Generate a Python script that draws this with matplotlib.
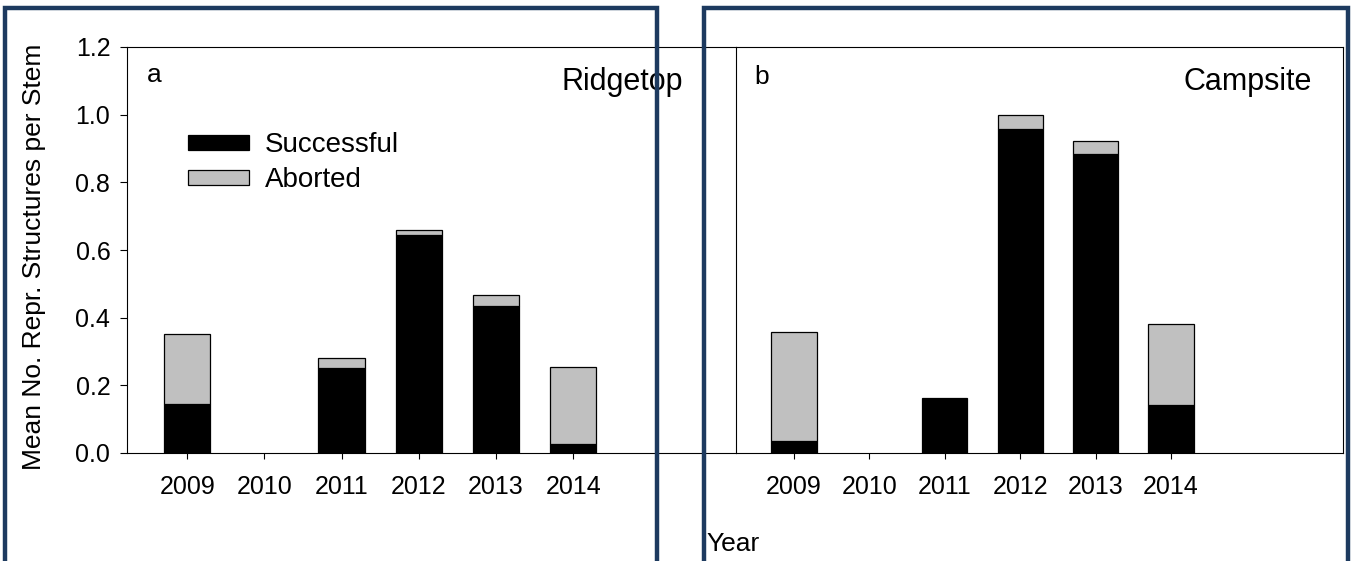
import numpy as np
import matplotlib
matplotlib.use('Agg')
import matplotlib.pyplot as plt
from matplotlib.patches import Patch, Rectangle

plt.rcParams['font.family'] = ['Liberation Sans', 'DejaVu Sans']

years = [2009, 2010, 2011, 2012, 2013, 2014]

# mean reproductive structures per stem, split by fate
ridge_success = [0.144, 0.0, 0.252, 0.644, 0.434, 0.026]
ridge_aborted = [0.208, 0.0, 0.029, 0.015, 0.034, 0.228]
camp_success = [0.036, 0.0, 0.163, 0.959, 0.883, 0.142]
camp_aborted = [0.321, 0.0, 0.0, 0.041, 0.038, 0.239]

W, H = 1355, 561
fig = plt.figure(figsize=(W / 100, H / 100), dpi=100)
fig.patch.set_facecolor('white')

ax1 = fig.add_axes([127 / W, (H - 453) / H, (736 - 127) / W, (453 - 47) / H])
ax2 = fig.add_axes([736 / W, (H - 453) / H, (1343 - 736) / W, (453 - 47) / H])

gray = '#c0c0c0'
for ax, succ, abort, xlim in [
        (ax1, ridge_success, ridge_aborted, (2008.22, 2016.11)),
        (ax2, camp_success, camp_aborted, (2008.23, 2016.28))]:
    s = np.array(succ)
    a = np.array(abort)
    keep = (s + a) > 0
    yr = np.array(years)[keep]
    ax.bar(yr, s[keep], width=0.6, color='black', edgecolor='black',
           linewidth=0.9, label='Successful')
    ab = a[keep] > 0
    ax.bar(yr[ab], a[keep][ab], bottom=s[keep][ab], width=0.6, color=gray,
           edgecolor='black', linewidth=0.9, label='Aborted')
    ax.set_xlim(*xlim)
    ax.set_ylim(0, 1.2)
    ax.set_xticks(years)
    ax.set_xticklabels([str(y) for y in years], fontsize=18)
    ax.tick_params(axis='x', direction='out', length=4.5, width=0.8, pad=11)
    for sp in ax.spines.values():
        sp.set_linewidth(0.8)

ax1.spines['right'].set_visible(False)
ax1.set_yticks(np.arange(0, 1.21, 0.2))
ax1.set_yticklabels(['%.1f' % v for v in np.arange(0, 1.21, 0.2)], fontsize=18)
ax1.tick_params(axis='y', direction='out', length=5, width=0.8, pad=7)
ax1.set_ylabel('Mean No. Repr. Structures per Stem', fontsize=19)
ax1.yaxis.set_label_coords(-0.133, 0.483)

ax2.set_yticks([])

ax1.text(0.033, 0.93, 'a', transform=ax1.transAxes, fontsize=19, va='center')
ax1.text(0.913, 0.915, 'Ridgetop', transform=ax1.transAxes, fontsize=22,
         ha='right', va='center')
ax2.text(0.031, 0.925, 'b', transform=ax2.transAxes, fontsize=19, va='center')
ax2.text(0.949, 0.915, 'Campsite', transform=ax2.transAxes, fontsize=22,
         ha='right', va='center')

handles = [Patch(facecolor='black', edgecolor='black', linewidth=0.9),
           Patch(facecolor=gray, edgecolor='black', linewidth=0.9)]
ax1.legend(handles, ['Successful', 'Aborted'], loc='upper left',
           bbox_to_anchor=(0.1, 0.79), frameon=False, fontsize=20,
           handlelength=2.2, handleheight=0.47, handletextpad=0.58,
           labelspacing=0.32, borderpad=0, borderaxespad=0)

fig.text(733 / W, 1 - 544 / H, 'Year', fontsize=19, ha='center', va='center')

# navy frames around each panel
navy = '#1d3a5f'
for x0, x1 in [(5, 657), (704, 1348)]:
    fig.add_artist(Rectangle((x0 / W, -0.05), (x1 - x0) / W, 1.05 - 8 / H,
                             transform=fig.transFigure, fill=False,
                             edgecolor=navy, linewidth=3.2, zorder=10,
                             clip_on=False))

fig.savefig('out.png', dpi=100)
